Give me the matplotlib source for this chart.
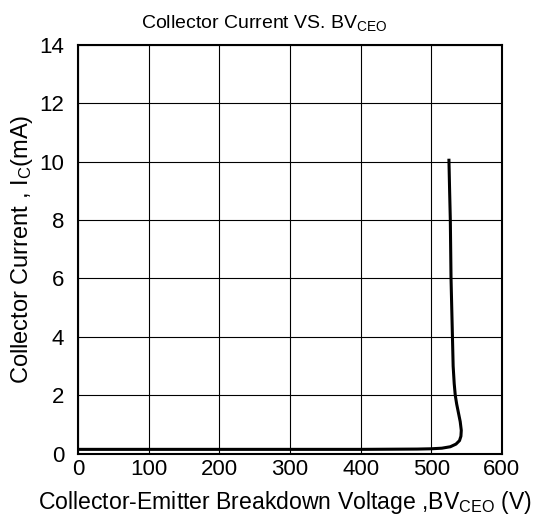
import matplotlib
matplotlib.use('Agg')
import matplotlib.pyplot as plt

plt.rcParams['font.family'] = ['Liberation Sans', 'DejaVu Sans']
plt.rcParams['mathtext.fontset'] = 'custom'
plt.rcParams['mathtext.rm'] = 'Liberation Sans'
plt.rcParams['mathtext.it'] = 'Liberation Sans'

# curve (V, mA)
bv_ceo = [0, 100, 200, 300, 400, 480, 500, 515, 527, 535, 540, 542, 542.5, 541,
          538.5, 536, 534, 532.5, 531, 530, 529, 528, 527, 526, 525]
i_c = [0.15, 0.15, 0.15, 0.15, 0.15, 0.16, 0.17, 0.19, 0.24, 0.33, 0.45, 0.6, 0.8, 1.1,
       1.4, 1.7, 2.0, 2.4, 3.0, 4.0, 5.0, 6.0, 8.0, 9.0, 10.1]

x_ticks = [0, 100, 200, 300, 400, 500, 600]
y_ticks = [0, 2, 4, 6, 8, 10, 12, 14]

fig = plt.figure(figsize=(5.42, 5.27), dpi=100)
ax = fig.add_axes([0.144, 0.139, 0.782, 0.776])

ax.plot(bv_ceo, i_c, color='black', linewidth=2.2, solid_capstyle='butt')

ax.set_xlim(0, 600)
ax.set_ylim(0, 14)
ax.set_xticks(x_ticks)
ax.set_yticks(y_ticks)
ax.tick_params(axis='both', length=0, labelsize=16)
ax.tick_params(axis='y', pad=10)
ax.tick_params(axis='x', pad=4)
ax.grid(True, color='black', linewidth=0.8)
for s in ax.spines.values():
    s.set_linewidth(1.5)

ax.set_title('Collector Current VS. BV$_{\\mathrm{CEO}}$', fontsize=14, pad=12, x=0.44)
ax.set_xlabel('Collector-Emitter Breakdown Voltage ,BV$_{\\mathrm{CEO}}$ (V)', fontsize=16.6,
              labelpad=6, x=0.488)
ax.set_ylabel('Collector Current , I$_{\\mathrm{C}}$(mA)', fontsize=17, labelpad=3)

fig.savefig('out.png', dpi=100)
